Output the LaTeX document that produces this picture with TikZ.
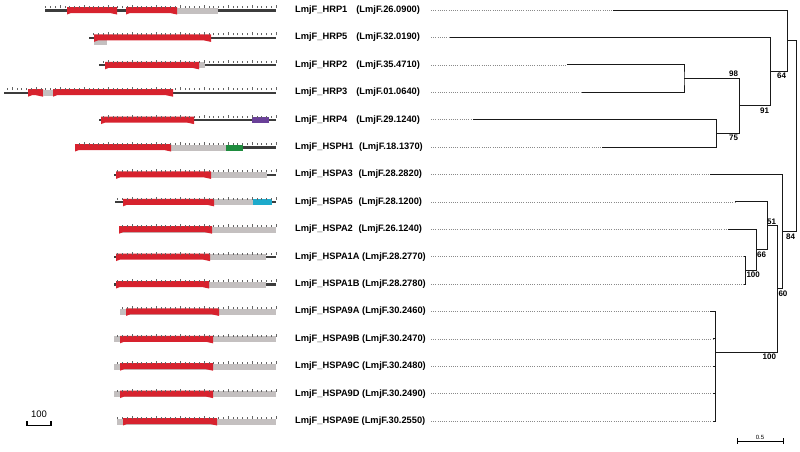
\documentclass[tikz,border=0pt]{standalone}
\usepackage{fontspec}
\setmainfont{Liberation Sans}
\definecolor{hspred}{HTML}{D7222E}
\definecolor{padgray}{HTML}{C4C0C0}
\definecolor{axisgray}{HTML}{3C3C3C}
\definecolor{guidegray}{HTML}{8A8A8A}
\definecolor{motifpurple}{HTML}{6A4099}
\definecolor{motifgreen}{HTML}{1E8C3E}
\definecolor{motifcyan}{HTML}{1DAACB}
% one row of the domain map: row index, then x positions
\newcommand{\seqaxis}[2]{\pgfmathsetmacro\yb{10.5+27.4*#1}\draw[seqaxis] (#2,\yb) -- (276,\yb);}
\newcommand{\motif}[4]{\pgfmathsetmacro\yb{10.5+27.4*#1}\fill[#4] (#2,{\yb-3}) rectangle (#3,{\yb+3});}
\newcommand{\hspblock}[3]{\pgfmathsetmacro\yb{10.5+27.4*#1}%
\fill[hspred] (#2,{\yb-3.5}) -- (#3,{\yb-3.5}) -- (#3,{\yb+4}) -- ({#3-7},{\yb+2.5}) -- ({#2+4},{\yb+2.5}) -- (#2,{\yb+4}) -- cycle;}
\newcommand{\seqticks}[2]{\pgfmathsetmacro\yb{10.5+27.4*#1}%
\pgfmathtruncatemacro\nticks{(276-#2)/4.8}%
\foreach \k in {0,...,\nticks}{\draw[seqtick] ({276-4.8*\k},{\yb-2.5}) -- ++(0,-2);}%
\pgfmathtruncatemacro\nbig{(276-#2)/24}%
\foreach \k in {0,...,\nbig}{\draw[seqtick] ({276-24*\k},{\yb-2.5}) -- ++(0,-3);}}
\tikzset{gene/.style={anchor=west,inner sep=0pt,font=\bfseries\fontsize{9.3}{11}\selectfont},
boot/.style={inner sep=0.8pt,font=\bfseries\fontsize{8}{9}\selectfont},
branch/.style={draw=black!90,line width=1pt},
guide/.style={draw=guidegray,line width=0.6pt,dash pattern=on 0.6pt off 1.6pt},
seqaxis/.style={draw=axisgray,line width=2.2pt},
seqtick/.style={draw=axisgray!80,line width=0.35pt}}

\begin{document}
\begin{tikzpicture}[x=1pt,y=-1pt]
\useasboundingbox (0,0) rectangle (800,451);
% gene labels, guide lines and leaf tips
\foreach \r/\g/\acc/\gap/\tip in {0/HRP1/26.0900/9/613, 1/HRP5/32.0190/9/450, 2/HRP2/35.4710/9/567,
3/HRP3/01.0640/9/582, 4/HRP4/29.1240/9/473, 5/HSPH1/18.1370/5.6/602, 6/HSPA3/28.2820/5.6/710,
7/HSPA5/28.1200/5.6/735, 8/HSPA2/26.1240/5.6/728, 9/HSPA1A/28.2770/2.6/744, 10/HSPA1B/28.2780/2.6/744,
11/HSPA9A/30.2460/2.6/710, 12/HSPA9B/30.2470/2.6/713, 13/HSPA9C/30.2480/2.6/713,
14/HSPA9D/30.2490/2.6/713, 15/HSPA9E/30.2550/2.6/713}{
\node[gene] (\g) at (295,{10+27.4*\r}) {LmjF\_\g\hspace{\gap pt}(LmjF.\acc)};
\coordinate (d\g) at (431,{10+27.4*\r});
\coordinate (t\g) at (\tip,{10+27.4*\r});
\draw[guide] (d\g) -- (t\g);
}
% domain maps
\seqaxis{0}{45}\motif{0}{177}{218}{padgray}\hspblock{0}{67}{117}\hspblock{0}{126}{177}\seqticks{0}{45}
\seqaxis{1}{89}\fill[padgray] (94,39.9) rectangle (107,45.4);\hspblock{1}{94}{211}\seqticks{1}{89}
\seqaxis{2}{99}\motif{2}{199}{205}{padgray}\hspblock{2}{105}{199}\seqticks{2}{99}
\seqaxis{3}{4}\hspblock{3}{28}{43}\motif{3}{43}{53}{padgray}\hspblock{3}{53}{173}\seqticks{3}{4}
\seqaxis{4}{99}\hspblock{4}{101}{194}\motif{4}{252}{269}{motifpurple}\seqticks{4}{99}
\seqaxis{5}{75}\motif{5}{171}{226}{padgray}\motif{5}{226}{243}{motifgreen}\hspblock{5}{75}{171}\seqticks{5}{75}
\seqaxis{6}{114}\motif{6}{211}{267}{padgray}\hspblock{6}{116}{211}\seqticks{6}{114}
\seqaxis{7}{115}\motif{7}{214}{253}{padgray}\motif{7}{253}{272}{motifcyan}\hspblock{7}{123}{214}\seqticks{7}{115}
\seqaxis{8}{119}\motif{8}{119}{276}{padgray}\hspblock{8}{119}{212}\seqticks{8}{119}
\seqaxis{9}{114}\motif{9}{210}{266}{padgray}\hspblock{9}{116}{210}\seqticks{9}{114}
\seqaxis{10}{114}\motif{10}{209}{266}{padgray}\hspblock{10}{116}{209}\seqticks{10}{114}
\motif{11}{120}{276}{padgray}\hspblock{11}{126}{219}\seqticks{11}{120}
\motif{12}{114}{276}{padgray}\hspblock{12}{120}{213}\seqticks{12}{114}
\motif{13}{114}{276}{padgray}\hspblock{13}{120}{213}\seqticks{13}{114}
\motif{14}{114}{276}{padgray}\hspblock{14}{120}{213}\seqticks{14}{114}
\motif{15}{117}{276}{padgray}\hspblock{15}{123}{217}\seqticks{15}{117}
% 100 aa scale
\node[font=\fontsize{9.5}{10}\selectfont,inner sep=0pt] (aa100) at (39,414) {100};
\draw[line width=1.6pt] (27,421) -- (27,425.5) -- (51,425.5) -- (51,421);
% internal nodes of the tree
\coordinate (A) at (684,78.5);
\coordinate (B) at (716,133.3);
\coordinate (C) at (739,105.9);
\coordinate (D) at (770,71.65);
\coordinate (E) at (787,40.8);
\coordinate (K) at (745,270.3);
\coordinate (J) at (756,249.75);
\coordinate (H) at (767,225.8);
\coordinate (I) at (715,352);
\coordinate (G) at (777,288.9);
\coordinate (F) at (782,231.65);
\coordinate (R) at (796,136.2);
% branches
\draw[branch] (tHRP2) -| (A) |- (tHRP3);
\draw[branch] (tHRP4) -| (B) |- (tHSPH1);
\draw[branch] (A) -| (C) |- (B);
\draw[branch] (tHRP5) -| (D) |- (C);
\draw[branch] (tHRP1) -| (E) |- (D);
\draw[branch] (tHSPA1A) -| (K) |- (tHSPA1B);
\draw[branch] (tHSPA2) -| (J) |- (K);
\draw[branch] (tHSPA5) -| (H) |- (J);
\draw[branch] (tHSPA9A) -| (I) |- (tHSPA9E);
\foreach \g in {HSPA9B,HSPA9C,HSPA9D}{\draw[branch] (t\g) -- (t\g -| I);}
\draw[branch] (H) -| (G) |- (I);
\draw[branch] (tHSPA3) -| (F) |- (G);
\draw[branch] (E) -| (R) |- (F);
% bootstrap values
\node[boot,anchor=south east] (b98) at (739,78) {98};
\node[boot,anchor=north east] (b75) at (739,134) {75};
\node[boot,anchor=north east] (b91) at (770,106.5) {91};
\node[boot,anchor=north east] (b64) at (787,72.3) {64};
\node[boot,anchor=north east] (b84) at (796,232.5) {84};
\node[boot,anchor=south east] (b51) at (777,225.3) {51};
\node[boot,anchor=north east] (b66) at (767,250.5) {66};
\node[boot,anchor=north west] (b100a) at (745.5,271) {100};
\node[boot,anchor=north west] (b60) at (777.5,289.6) {60};
\node[boot,anchor=north east] (b100b) at (777,352.6) {100};
% tree scale
\node[font=\fontsize{6}{7}\selectfont,inner sep=0.5pt,anchor=south] (sc05) at (760,440) {0.5};
\draw[line width=0.7pt] (737,438) -- (737,444) (737,441) -- (783,441) (783,438) -- (783,444);
\end{tikzpicture}
\end{document}
